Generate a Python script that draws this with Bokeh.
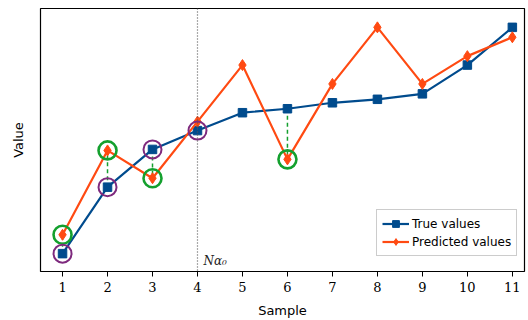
from bokeh.plotting import figure
from bokeh.models import Label, Span, FixedTicker, Legend, LegendItem
from bokeh.embed import file_html
from bokeh.resources import INLINE

samples = [1, 2, 3, 4, 5, 6, 7, 8, 9, 10, 11]
true_vals = [2.5, 9.2, 13.0, 14.9, 16.7, 17.1, 17.7, 18.05, 18.6, 21.5, 25.3]
pred_vals = [4.4, 12.9, 10.1, 15.8, 21.5, 12.0, 19.6, 25.3, 19.6, 22.4, 24.3]
green_idx = [0, 1, 2, 5]   # predicted values circled in green, with dashed gap
purple_idx = [0, 1, 2, 3]  # true values circled in purple
split_sample = 4

BLUE = "#004b8d"
ORANGE = "#ff4a12"
GREEN = "#14a02e"
PURPLE = "#7e2a7e"

p = figure(width=528, height=320, output_backend="svg", toolbar_location=None,
           x_range=(0.51, 11.27), y_range=(0.7, 27.2),
           min_border_left=40, min_border_right=4, min_border_top=8, min_border_bottom=47)
p.grid.visible = False
p.outline_line_color = "black"
p.outline_line_width = 1.2
p.background_fill_color = "white"

# dashed error lines
for i in green_idx:
    p.line([samples[i], samples[i]], [true_vals[i], pred_vals[i]],
           line_color=GREEN, line_width=1.5, line_dash="4 3")

vline = Span(location=split_sample, dimension="height", line_color="#555555",
             line_width=1.2, line_dash="1 2")
p.add_layout(vline)

r_true_l = p.line(samples, true_vals, line_color=BLUE, line_width=2.2)
r_true_m = p.scatter(samples, true_vals, marker="square", size=8.5, fill_color=BLUE, line_color=BLUE)
r_pred_l = p.line(samples, pred_vals, line_color=ORANGE, line_width=2.2)
r_pred_m = p.scatter(samples, pred_vals, marker="diamond", size=11, fill_color=ORANGE, line_color=ORANGE)

p.scatter([samples[i] for i in green_idx], [pred_vals[i] for i in green_idx],
          marker="circle", size=18, fill_color=None, line_color=GREEN, line_width=2.6)
p.scatter([samples[i] for i in purple_idx], [true_vals[i] for i in purple_idx],
          marker="circle", size=18, fill_color=None, line_color=PURPLE, line_width=2)

lbl = Label(x=split_sample, y=1.1, x_offset=6, text="Nα₀",
            text_font="DejaVu Serif", text_font_style="italic", text_font_size="12px",
            text_color="#222222")
p.add_layout(lbl)

legend = Legend(items=[LegendItem(label="True values", renderers=[r_true_l, r_true_m]),
                       LegendItem(label="Predicted values", renderers=[r_pred_l, r_pred_m])],
                location=(336, 15), label_text_font="DejaVu Sans",
                label_text_font_size="12px", label_text_color="black",
                border_line_color="#999999",
                border_line_width=1, padding=5, spacing=1, glyph_width=27,
                label_standoff=3, margin=0, label_height=17, glyph_height=17)
p.add_layout(legend)

p.xaxis.ticker = FixedTicker(ticks=samples)
p.xaxis.minor_tick_line_color = None
p.xaxis.major_tick_out = 5
p.xaxis.major_tick_in = 0
p.xaxis.major_tick_line_color = "black"
p.xaxis.major_label_text_font = "DejaVu Serif"
p.xaxis.major_label_text_font_size = "13px"
p.xaxis.major_label_text_color = "black"
p.xaxis.axis_label = "Sample"
p.xaxis.axis_label_text_font = "DejaVu Sans"
p.xaxis.axis_label_text_font_style = "normal"
p.xaxis.axis_label_text_font_size = "13px"
p.xaxis.axis_label_text_color = "black"
p.xaxis.axis_label_standoff = 8
p.xaxis.axis_line_color = None

p.yaxis.ticker = FixedTicker(ticks=[])
p.yaxis.minor_tick_line_color = None
p.yaxis.axis_line_color = None
p.yaxis.axis_label = "Value"
p.yaxis.axis_label_text_font = "DejaVu Sans"
p.yaxis.axis_label_text_font_style = "normal"
p.yaxis.axis_label_text_font_size = "13px"
p.yaxis.axis_label_text_color = "black"
p.yaxis.axis_label_standoff = 15

open("out.html", "w").write(file_html(p, INLINE))
